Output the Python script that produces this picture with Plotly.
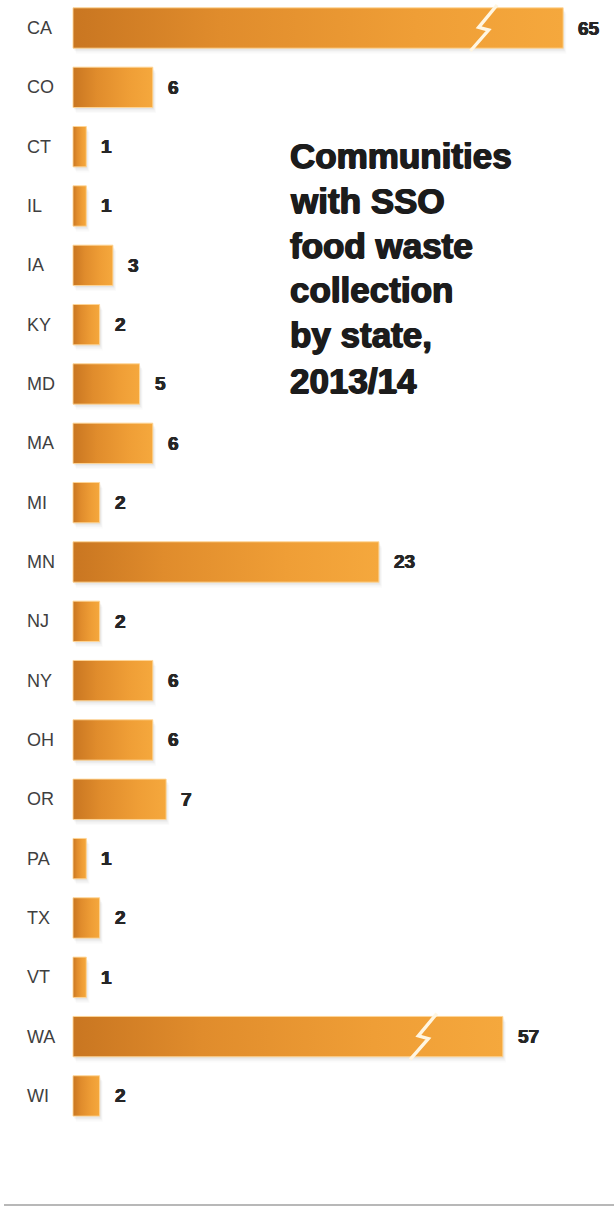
import plotly.graph_objects as go

# Communities with source-separated organics (SSO) food waste collection, by state
states = ["CA", "CO", "CT", "IL", "IA", "KY", "MD", "MA", "MI", "MN",
          "NJ", "NY", "OH", "OR", "PA", "TX", "VT", "WA", "WI"]
communities = [65, 6, 1, 1, 3, 2, 5, 6, 2, 23, 2, 6, 6, 7, 1, 2, 1, 57, 2]

title_lines = ["Communities", "with SSO", "food waste", "collection",
               "by state,", "2013/14"]

# Bars longer than BREAK_AT are drawn on a compressed scale and marked with a break
BREAK_AT = 30
BREAK_SCALE = 0.567

W, H = 614, 1207
PX_PER_UNIT = 13.3       # horizontal pixels per community
BAR_X0_PX = 73           # left edge of every bar
ROW0_PX = 28             # centre of first row
ROW_PX = 59.33           # row pitch
BAR_H = 0.68             # bar thickness as a fraction of a row

x_range = [-BAR_X0_PX / PX_PER_UNIT, (W - BAR_X0_PX) / PX_PER_UNIT]
y_range = [(H - ROW0_PX) / ROW_PX, -ROW0_PX / ROW_PX]

def px_x(p):
    return p / PX_PER_UNIT

def px_y(p):
    return p / ROW_PX

def drawn_length(v):
    return v * BREAK_SCALE if v > BREAK_AT else v

# heavier strokes for the bold labels
HEAVY = "0.45px 0 0 {c}, -0.45px 0 0 {c}, 0 0.3px 0 {c}"

fig = go.Figure()
gradient = [[0.0, "#C97621"], [0.3, "#E08C2C"], [0.7, "#EF9E36"], [1.0, "#F5A83D"]]

for i, (st, v) in enumerate(zip(states, communities)):
    L = drawn_length(v)
    y0, y1 = i - BAR_H / 2, i + BAR_H / 2

    # soft drop shadow
    for k, a in [(1, 0.05), (2, 0.04), (3, 0.03), (4, 0.02)]:
        dx, dy = px_x(0.8 * k), px_y(1.4 * k)
        fig.add_trace(go.Scatter(
            x=[dx, L + dx, L + dx, dx, dx],
            y=[y0 + dy, y0 + dy, y1 + dy, y1 + dy, y0 + dy],
            fill="toself", fillcolor=f"rgba(60,60,60,{a})",
            line=dict(width=0), mode="lines", hoverinfo="skip", showlegend=False))

    # bar with left-to-right gradient
    fig.add_trace(go.Scatter(
        x=[0, L, L, 0, 0], y=[y0, y0, y1, y1, y0],
        fill="toself", fillgradient=dict(type="horizontal", colorscale=gradient),
        line=dict(width=1, color="rgba(255,214,150,0.9)"), mode="lines",
        name=st, hovertemplate=f"{st}: {v}<extra></extra>", showlegend=False))

    # lightning-style break on compressed bars
    if v > BREAK_AT:
        cx = L - 6
        zx = [13.7, -4.7, 5.3, -13.0]
        zy = [-23.0, -0.7, 2.0, 23.0]
        fig.add_trace(go.Scatter(
            x=[cx + px_x(a) for a in zx], y=[i + px_y(b) for b in zy],
            mode="lines", line=dict(color="#FFF6E2", width=3.4),
            hoverinfo="skip", showlegend=False))

    # value label
    fig.add_annotation(x=L, y=i, text=f"<b>{v}</b>", showarrow=False,
                       xanchor="left", yanchor="middle", xshift=13,
                       font=dict(family="Liberation Sans", size=19, color="#262626",
                                 shadow=HEAVY.format(c="#262626")))
    # state label
    fig.add_annotation(x=px_x(25 - BAR_X0_PX), y=i, text=st, showarrow=False,
                       xanchor="left", yanchor="middle",
                       font=dict(family="Liberation Sans", size=18, color="#3f3f3f"))

# chart title, one annotation per line
title_mid_px = [155, 200, 245, 289, 334, 380]
for line, ypx in zip(title_lines, title_mid_px):
    fig.add_annotation(xref="paper", yref="paper", x=288 / W, y=1 - ypx / H,
                       text=f"<b>{line}</b>", showarrow=False,
                       xanchor="left", yanchor="middle",
                       font=dict(family="Liberation Sans", size=35, color="#1c1c1c",
                                 shadow="0.8px 0 0 #1c1c1c, -0.8px 0 0 #1c1c1c, 0 0.5px 0 #1c1c1c"))

# rule along the bottom
fig.add_shape(type="line", xref="paper", yref="paper",
              x0=4 / W, x1=1, y0=1 - 1205 / H, y1=1 - 1205 / H,
              line=dict(color="#b8b8b8", width=2))

fig.update_layout(
    width=W, height=H, margin=dict(l=0, r=0, t=0, b=0),
    paper_bgcolor="white", plot_bgcolor="white",
    xaxis=dict(range=x_range, visible=False, fixedrange=True),
    yaxis=dict(range=y_range, visible=False, fixedrange=True),
    showlegend=False,
)

fig.write_html("out.html", config={"displayModeBar": False})
